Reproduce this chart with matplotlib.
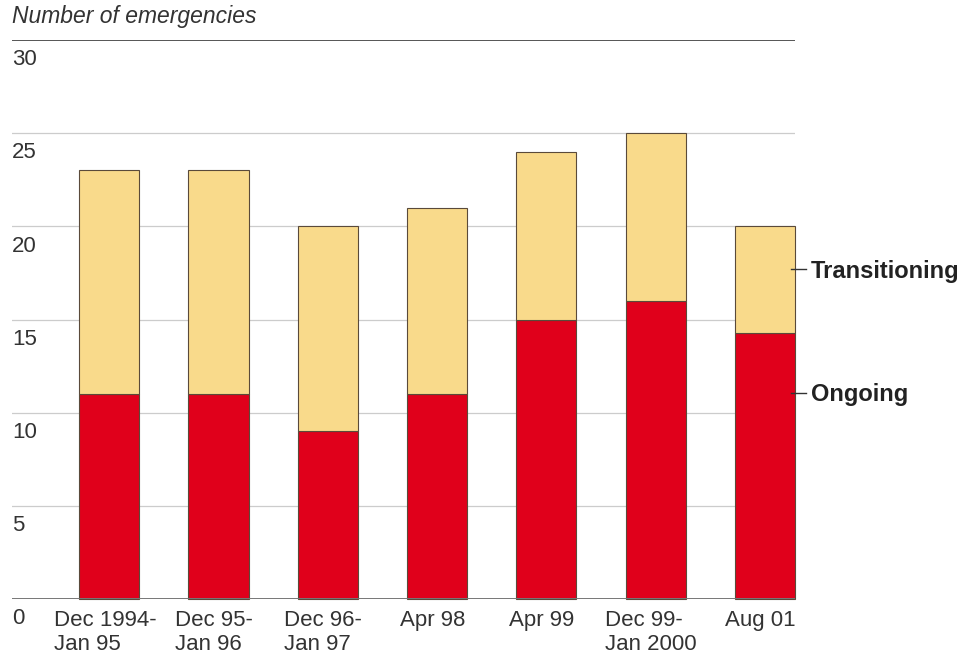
import numpy as np
import matplotlib.pyplot as plt

plt.rcParams['font.family'] = ['Liberation Sans', 'DejaVu Sans']

# datos
periodos = ["Dec 1994-\nJan 95", "Dec 95-\nJan 96", "Dec 96-\nJan 97", "Apr 98",
            "Apr 99", "Dec 99-\nJan 2000", "Aug 01"]
ongoing = [11, 11, 9, 11, 15, 16, 14.3]
total = [23, 23, 20, 21, 24, 25, 20]
transitioning = [t - o for t, o in zip(total, ongoing)]
yticks = [0, 5, 10, 15, 20, 25, 30]

rojo = "#E0001B"
amarillo = "#F9DA8B"
borde = "#5a4a3a"

fig = plt.figure(figsize=(9.64, 6.56), dpi=100)
ax = fig.add_axes([0.0124, 0.0869, 0.8123, 0.8521])

x = np.arange(len(periodos))
ax.bar(x, ongoing, width=0.55, color=rojo, edgecolor=borde, linewidth=0.8,
       zorder=3, clip_on=False)
ax.bar(x, transitioning, width=0.55, bottom=ongoing, color=amarillo,
       edgecolor=borde, linewidth=0.8, zorder=3, clip_on=False)

ax.set_xlim(-0.89, 6.275)
ax.set_ylim(0, 30)

# lineas de rejilla
for v in yticks:
    if v == 0:
        ax.axhline(v, color="#777777", lw=1.4, zorder=4)
    elif v == 30:
        ax.axhline(v, color="#555555", lw=1.4, zorder=4)
    else:
        ax.axhline(v, color="#cccccc", lw=0.9, zorder=1)
    ax.text(0.0, v - 0.5, str(v), transform=ax.get_yaxis_transform(),
            ha="left", va="top", fontsize=16, color="#333333")

for s in ax.spines.values():
    s.set_visible(False)
ax.set_xticks([])
ax.set_yticks([])

for xi, lab in zip(x, periodos):
    ax.text(xi - 0.04, -0.6, lab, ha="center", va="top", fontsize=16,
            multialignment="left", color="#333333", linespacing=1.18)

ax.text(0.0, 1.022, "Number of emergencies", transform=ax.transAxes,
        ha="left", va="bottom", fontsize=16.5, style="italic", color="#333333")

# etiquetas de series
for yv, lab in [(17.7, "Transitioning"), (11.05, "Ongoing")]:
    ax.plot([6.24, 6.375], [yv, yv], color="#333333", lw=1, clip_on=False, zorder=5)
    ax.text(6.42, yv - 0.1, lab, ha="left", va="center", fontsize=17,
            fontweight="bold", color="#222222", clip_on=False)

fig.savefig("out.png", dpi=100)
